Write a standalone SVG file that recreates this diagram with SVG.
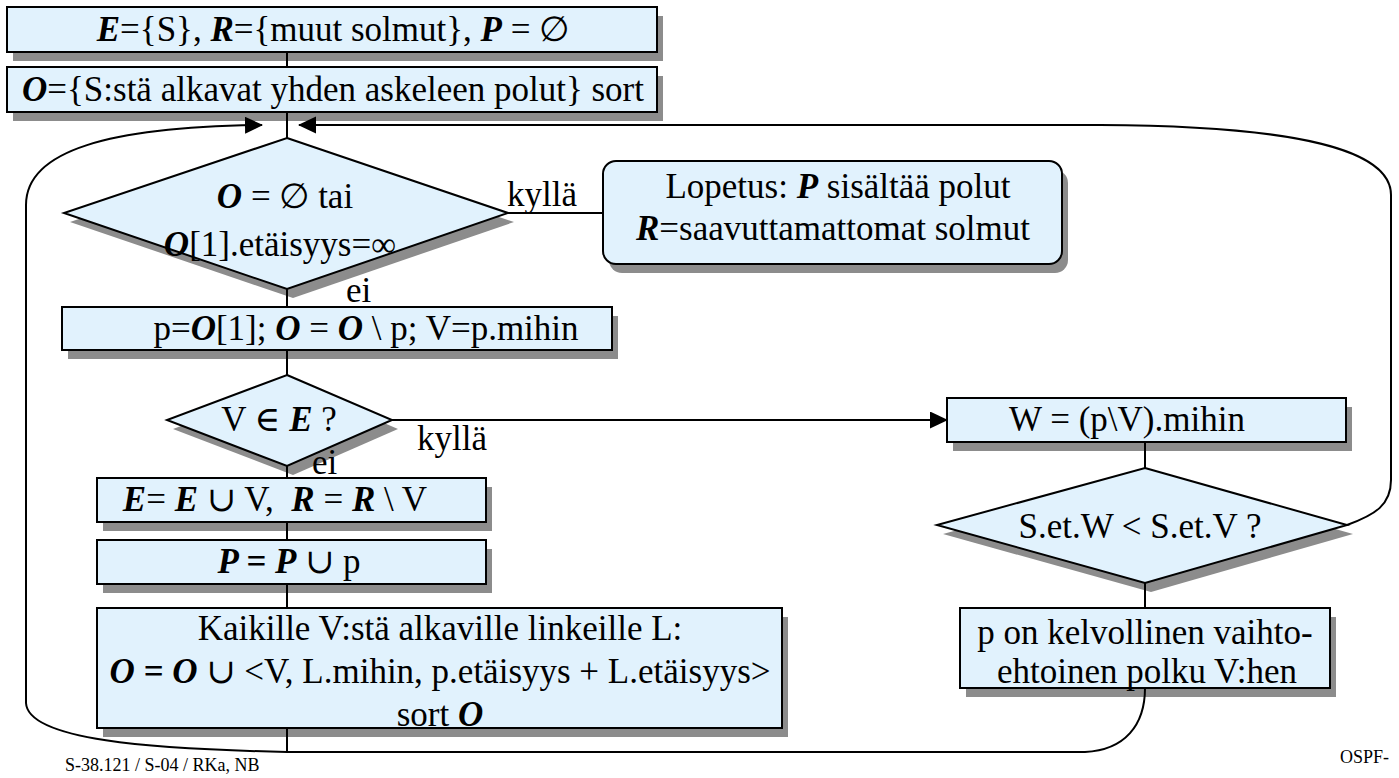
<svg xmlns="http://www.w3.org/2000/svg" width="1399" height="778" viewBox="0 0 1399 778">
<defs>
<marker id="ah" markerUnits="userSpaceOnUse" markerWidth="18" markerHeight="18" refX="17" refY="8.5" orient="auto"><path d="M0,0 L18,8.5 L0,17 z" fill="#000"/></marker>
</defs>
<style>
.sh{fill:#8c8c8c}
.bx{fill:#e1f2fd;stroke:#000;stroke-width:2}
.t{font-family:"Liberation Serif","DejaVu Serif",serif;font-size:35px;fill:#000;text-anchor:middle;white-space:pre}
.l{font-family:"Liberation Serif","DejaVu Serif",serif;font-size:35px;fill:#000}
.b{font-weight:bold;font-style:italic}
.c{fill:none;stroke:#000;stroke-width:2}
.f{font-family:"Liberation Serif","DejaVu Serif",serif;font-size:18px;fill:#000}
</style>
<rect width="1399" height="778" fill="#fff"/>

<g id="init1">
<rect class="sh" x="13" y="16" width="650" height="45"/>
<rect class="bx" x="7" y="7" width="650" height="45"/>
<text class="t" x="333" y="41"><tspan class="b">E</tspan>={S}, <tspan class="b">R</tspan>={muut solmut}, <tspan class="b">P</tspan> = ∅</text>
</g>
<g id="init2">
<rect class="sh" x="13" y="76" width="650" height="45"/>
<rect class="bx" x="7" y="67" width="650" height="45"/>
<text class="t" x="333" y="101"><tspan class="b">O</tspan>={S:stä alkavat yhden askeleen polut} sort</text>
</g>
<g id="dec1">
<polygon class="sh" points="293,147 514,222 293,298 70,222"/>
<polygon class="bx" points="287,138 508,213 287,289 64,213"/>
<text class="t" x="285" y="208"><tspan class="b">O</tspan> = ∅ tai</text>
<text class="t" x="280" y="256"><tspan class="b">O</tspan>[1].etäisyys=∞</text>
</g>
<g id="stop">
<rect class="sh" x="609" y="170" width="459" height="103" rx="13"/>
<rect class="bx" x="603" y="161" width="459" height="103" rx="13"/>
<text class="t" x="838" y="198">Lopetus: <tspan class="b">P</tspan> sisältää polut</text>
<text class="t" x="833" y="240"><tspan class="b">R</tspan>=saavuttamattomat solmut</text>
</g>
<g id="take">
<rect class="sh" x="68" y="316" width="550" height="43"/>
<rect class="bx" x="62" y="307" width="550" height="43"/>
<text class="t" x="366" y="340">p=<tspan class="b">O</tspan>[1]; <tspan class="b">O</tspan> = <tspan class="b">O</tspan> \ p; V=p.mihin</text>
</g>
<g id="dec2">
<polygon class="sh" points="293,384 398,429 293,475 173,429"/>
<polygon class="bx" points="287,375 392,420 287,466 167,420"/>
<text class="t" x="279" y="431">V ∈ <tspan class="b">E</tspan> ?</text>
</g>
<g id="addE">
<rect class="sh" x="103" y="487" width="389" height="44"/>
<rect class="bx" x="97" y="478" width="389" height="44"/>
<text class="t" x="275" y="511" xml:space="preserve"><tspan class="b">E</tspan>= <tspan class="b">E</tspan> ∪ V,  <tspan class="b">R</tspan> = <tspan class="b">R</tspan> \ V</text>
</g>
<g id="addP">
<rect class="sh" x="103" y="549" width="389" height="44"/>
<rect class="bx" x="97" y="540" width="389" height="44"/>
<text class="t" x="289" y="573"><tspan class="b">P = P</tspan> ∪ p</text>
</g>
<g id="links">
<rect class="sh" x="103" y="617" width="685" height="120"/>
<rect class="bx" x="97" y="608" width="685" height="120"/>
<text class="t" x="440" y="640">Kaikille V:stä alkaville linkeille L:</text>
<text class="t" x="440" y="683"><tspan class="b">O = O</tspan> ∪ &lt;V, L.mihin, p.etäisyys + L.etäisyys&gt;</text>
<text class="t" x="440" y="726">sort <tspan class="b">O</tspan></text>
</g>
<g id="wbox">
<rect class="sh" x="953" y="407" width="399" height="44"/>
<rect class="bx" x="947" y="398" width="399" height="44"/>
<text class="t" x="1127" y="431">W = (p\V).mihin</text>
</g>
<g id="dec3">
<polygon class="sh" points="1151,477 1353,534 1151,592 943,534"/>
<polygon class="bx" points="1145,468 1347,525 1145,583 937,525"/>
<text class="t" x="1140" y="538">S.et.W &lt; S.et.V ?</text>
</g>
<g id="alt">
<rect class="sh" x="966" y="617" width="370" height="80"/>
<rect class="bx" x="960" y="608" width="370" height="80"/>
<text class="t" x="1145" y="644">p on kelvollinen vaihto-</text>
<text class="t" x="1147" y="683">ehtoinen polku V:hen</text>
</g>

<g id="connectors">
<path class="c" d="M287,52 V67"/>
<path class="c" d="M287,112 V138"/>
<path class="c" d="M508,213 H603"/>
<path class="c" d="M287,289 V307"/>
<path class="c" d="M287,350 V375"/>
<path class="c" d="M392,420 H947" marker-end="url(#ah)"/>
<path class="c" d="M287,466 V478"/>
<path class="c" d="M287,522 V540"/>
<path class="c" d="M287,584 V608"/>
<path class="c" d="M287,728 V752"/>
<path class="c" d="M1145,442 V468"/>
<path class="c" d="M1145,583 V608"/>
<path class="c" d="M287,752 H1085 C1125,750 1145,725 1145,688"/>
<path class="c" d="M287,752 C150,749 28,740 26,703 V205 C26,150 110,127 262,125" marker-end="url(#ah)"/>
<path class="c" d="M1347,525 C1375,515 1391,505 1391,480 V195 C1391,150 1300,126 1100,125 H299" marker-end="url(#ah)"/>
</g>

<g id="labels">
<text class="l" x="507" y="206">kyllä</text>
<text class="l" x="346" y="302">ei</text>
<text class="l" x="417" y="450">kyllä</text>
<text class="l" x="312" y="474">ei</text>
<text class="f" x="65" y="771">S-38.121 / S-04 / RKa, NB</text>
<text class="f" x="1340" y="763">OSPF-</text>
</g>
</svg>
